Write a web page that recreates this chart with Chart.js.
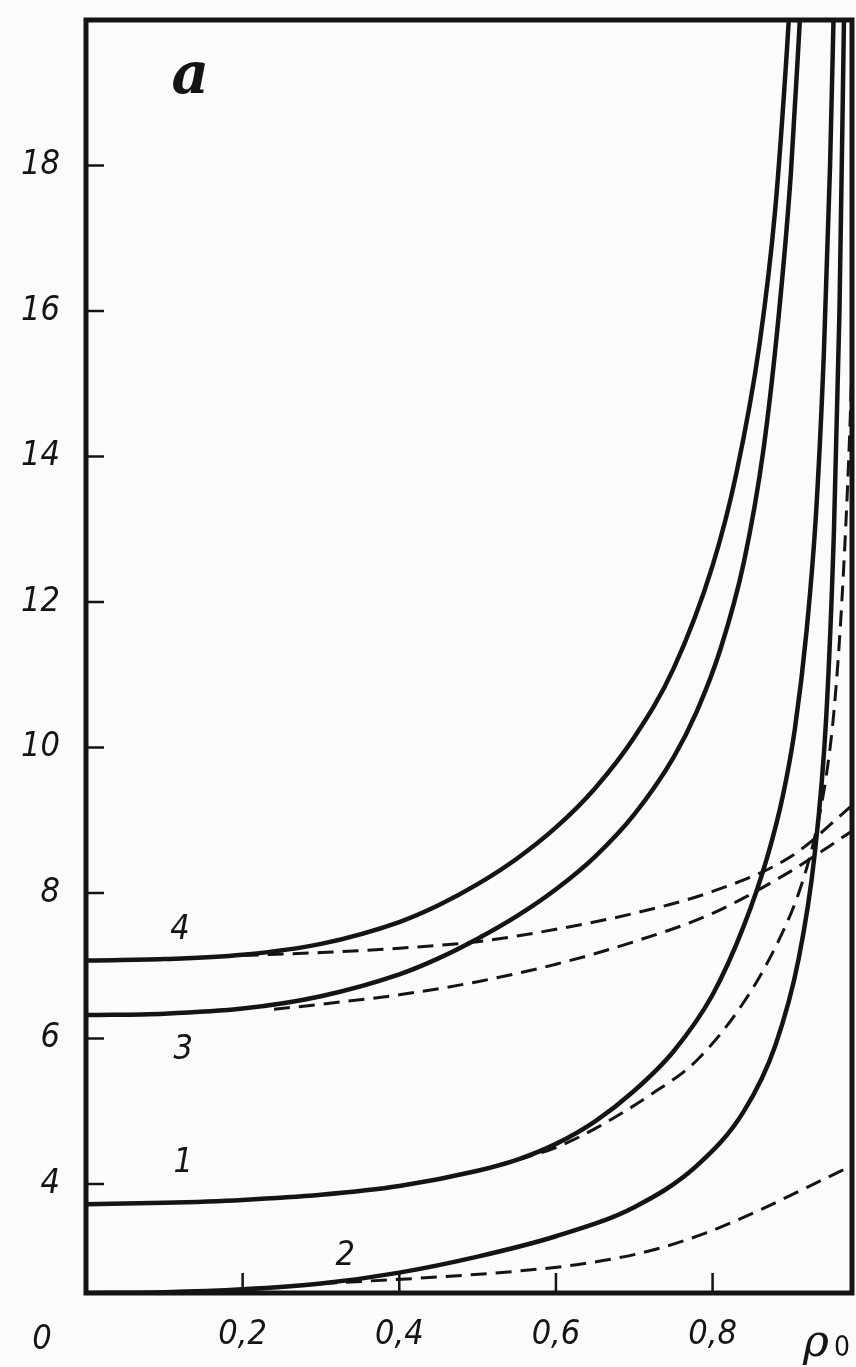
<!DOCTYPE html>
<html>
<head>
<meta charset="utf-8">
<script src="https://cdn.jsdelivr.net/npm/chart.js@4.4.1/dist/chart.umd.min.js"></script>
<style>
  html, body { margin: 0; padding: 0; background: #fbfbfa; }
  #wrap { width: 856px; height: 1367px; }
</style>
</head>
<body>
<div id="wrap"><canvas id="rhoChart"></canvas></div>
<script>
// === DATA ===
const yTicks = [4, 6, 8, 10, 12, 14, 16, 18];
const xTicks = [0.2, 0.4, 0.6, 0.8];
const xTickLabels = ['0,2', '0,4', '0,6', '0,8'];

// solid curves
const curve1X = [0, 0.1, 0.2, 0.3, 0.4, 0.5, 0.55, 0.6, 0.65, 0.7, 0.75, 0.8, 0.84, 0.87, 0.89, 0.905, 0.92, 0.932, 0.942, 0.95, 0.955];
const curve1Y = [3.72, 3.74, 3.78, 3.85, 3.97, 4.18, 4.33, 4.55, 4.86, 5.28, 5.82, 6.60, 7.55, 8.50, 9.35, 10.25, 11.6, 13.2, 15.4, 18.0, 20.3];
const curve2X = [0, 0.1, 0.2, 0.3, 0.4, 0.5, 0.6, 0.7, 0.78, 0.84, 0.88, 0.91, 0.93, 0.945, 0.955, 0.962, 0.968];
const curve2Y = [2.50, 2.51, 2.55, 2.63, 2.78, 3.00, 3.28, 3.68, 4.25, 5.00, 5.90, 7.10, 8.50, 10.4, 13.0, 16.0, 20.2];
const curve3X = [0, 0.1, 0.2, 0.3, 0.4, 0.45, 0.5, 0.55, 0.6, 0.65, 0.7, 0.75, 0.78, 0.81, 0.84, 0.865, 0.885, 0.90, 0.913];
const curve3Y = [6.32, 6.34, 6.41, 6.58, 6.88, 7.10, 7.37, 7.68, 8.05, 8.50, 9.08, 9.86, 10.50, 11.35, 12.55, 14.1, 16.0, 17.9, 20.3];
const curve4X = [0, 0.1, 0.2, 0.3, 0.4, 0.45, 0.5, 0.55, 0.6, 0.65, 0.7, 0.75, 0.8, 0.83, 0.86, 0.88, 0.895, 0.90];
const curve4Y = [7.07, 7.09, 7.15, 7.30, 7.60, 7.83, 8.12, 8.47, 8.90, 9.44, 10.14, 11.08, 12.50, 13.75, 15.55, 17.4, 19.6, 20.5];

// dashed curves
const dash1X = [0.52, 0.56, 0.6, 0.65, 0.72, 0.78, 0.84, 0.88, 0.91, 0.93, 0.945, 0.955, 0.965, 0.975, 0.98];
const dash1Y = [4.24, 4.36, 4.50, 4.76, 5.22, 5.70, 6.50, 7.25, 8.00, 8.75, 9.60, 10.5, 12.0, 14.3, 16.0];
const dash2X = [0.30, 0.45, 0.55, 0.64, 0.72, 0.79, 0.86, 0.92, 0.978];
const dash2Y = [2.63, 2.72, 2.80, 2.91, 3.08, 3.32, 3.64, 3.95, 4.25];
const dash3X = [0.24, 0.3, 0.4, 0.5, 0.6, 0.7, 0.8, 0.9, 0.978];
const dash3Y = [6.40, 6.47, 6.60, 6.78, 7.02, 7.33, 7.72, 8.30, 8.85];
const dash4X = [0.2, 0.3, 0.4, 0.5, 0.6, 0.7, 0.8, 0.9, 0.978];
const dash4Y = [7.14, 7.18, 7.24, 7.33, 7.50, 7.72, 8.02, 8.50, 9.20];

// curve number labels: [text, x, y]
const curveLabels = [['4', 0.12, 7.49], ['3', 0.124, 5.84], ['1', 0.124, 4.29], ['2', 0.331, 3.01]];

const pts = (xs, ys) => xs.map((x, i) => ({ x, y: ys[i] }));
const INK = '#141414';

const solid = (label, xs, ys) => ({
  label, data: pts(xs, ys), borderColor: INK, borderWidth: 4.5,
  pointRadius: 0, cubicInterpolationMode: 'monotone', fill: false
});
const dashed = (label, xs, ys) => ({
  label, data: pts(xs, ys), borderColor: INK, borderWidth: 3, borderDash: [16, 9],
  pointRadius: 0, cubicInterpolationMode: 'monotone', fill: false
});

// frame, inward tick marks and free text
const frameAndTicks = {
  id: 'frameAndTicks',
  afterDatasetsDraw(chart) {
    const { ctx, chartArea: a, scales: { x, y } } = chart;
    ctx.save();
    ctx.strokeStyle = INK;
    ctx.lineWidth = 5;
    ctx.strokeRect(a.left, a.top, a.right - a.left, a.bottom - a.top);

    ctx.lineWidth = 2.5;
    ctx.beginPath();
    yTicks.forEach(v => {
      const py = y.getPixelForValue(v);
      ctx.moveTo(a.left, py); ctx.lineTo(a.left + 18, py);
    });
    xTicks.forEach(v => {
      const px = x.getPixelForValue(v);
      ctx.moveTo(px, a.bottom); ctx.lineTo(px, a.bottom - 20);
    });
    ctx.stroke();

    ctx.fillStyle = INK;
    ctx.textAlign = 'center';
    ctx.textBaseline = 'middle';
    ctx.font = 'italic 34px "Liberation Sans Narrow", "DejaVu Sans Condensed", "DejaVu Sans", sans-serif';
    curveLabels.forEach(([t, vx, vy]) => {
      ctx.fillText(t, x.getPixelForValue(vx), y.getPixelForValue(vy));
    });

    // corner origin and axis name
    ctx.fillText('0', a.left - 44, a.bottom + 47);
    ctx.font = 'italic 44px "DejaVu Serif", serif';
    ctx.fillText('ρ', a.right - 36, a.bottom + 52);
    ctx.font = '28px "DejaVu Sans Condensed", "DejaVu Sans", sans-serif';
    ctx.fillText('0', a.right - 10, a.bottom + 56);

    // panel letter
    ctx.font = 'italic bold 58px "DejaVu Serif", serif';
    ctx.fillText('a', x.getPixelForValue(0.133), y.getPixelForValue(19.2));
    ctx.restore();
  }
};

const tickFont = { family: '"Liberation Sans Narrow", "DejaVu Sans Condensed", "DejaVu Sans", sans-serif', size: 34, style: 'italic' };

new Chart(document.getElementById('rhoChart').getContext('2d'), {
  type: 'line',
  data: {
    datasets: [
      dashed('4 (пунктир)', dash4X, dash4Y),
      dashed('3 (пунктир)', dash3X, dash3Y),
      dashed('1 (пунктир)', dash1X, dash1Y),
      dashed('2 (пунктир)', dash2X, dash2Y),
      solid('4', curve4X, curve4Y),
      solid('3', curve3X, curve3Y),
      solid('1', curve1X, curve1Y),
      solid('2', curve2X, curve2Y)
    ]
  },
  options: {
    responsive: true,
    maintainAspectRatio: false,
    animation: false,
    layout: { padding: { top: 20, right: 4, left: 0, bottom: 0 } },
    plugins: { legend: { display: false }, tooltip: { enabled: false } },
    scales: {
      x: {
        type: 'linear', min: 0, max: 0.978,
        afterBuildTicks: s => { s.ticks = xTicks.map(v => ({ value: v })); },
        afterFit: s => { s.height = 74; s.paddingLeft = 0; s.paddingRight = 0; },
        grid: { display: false, drawTicks: false },
        border: { display: false },
        ticks: { color: INK, font: tickFont, padding: 22, maxRotation: 0,
                 callback: (v, i) => xTickLabels[i] }
      },
      y: {
        type: 'linear', min: 2.5, max: 20,
        afterBuildTicks: s => { s.ticks = yTicks.map(v => ({ value: v })); },
        afterFit: s => { s.width = 86; s.paddingTop = 0; s.paddingBottom = 0; },
        grid: { display: false, drawTicks: false },
        border: { display: false },
        ticks: { color: INK, font: tickFont, padding: 26, callback: v => String(v) }
      }
    }
  },
  plugins: [frameAndTicks]
});
</script>
</body>
</html>
